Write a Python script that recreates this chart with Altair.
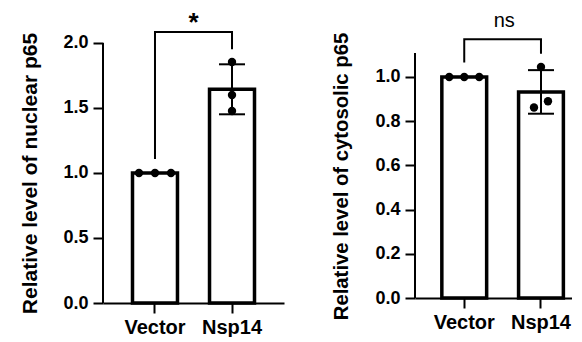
import altair as alt
import pandas as pd

GROUPS = ["Vector", "Nsp14"]

# replicate values
NUC_VECTOR = [1.0, 1.0, 1.0]
NUC_NSP14 = [1.854, 1.600, 1.477]
CYT_VECTOR = [1.0, 1.0, 1.0]
CYT_NSP14 = [1.045, 0.862, 0.890]

NUC_TICKS = [0.0, 0.5, 1.0, 1.5, 2.0]
CYT_TICKS = [0.0, 0.2, 0.4, 0.6, 0.8, 1.0]
NUC_AXIS_TOP = 2.0
CYT_AXIS_TOP = 1.108

# significance bracket heights: left leg bottom, top, top, right leg bottom
NUC_BRACKET = [1.115, 2.085, 2.085, 1.96]
CYT_BRACKET = [1.07, 1.171, 1.171, 1.11]
NUC_SIG = "*"
CYT_SIG = "ns"
NUC_SIG_Y = 2.09
CYT_SIG_Y = 1.226

NUC_TITLE = "Relative level of nuclear p65"
CYT_TITLE = "Relative level of cytosolic p65"

# style: horizontal dot spread (px) per replicate
NUC_JIT = [-16, 0, 16, 0, 0, 0]
CYT_JIT = [-15, 0, 15, 0, -7, 7]

FONT = "Liberation Sans"


def panel(vec, nsp, ticks, axis_top, ymax, height, width, xscale, title, title_size,
          title_pad, title_y, bracket, sig, sig_y, sig_bold, sig_size, jit, sig_dx):
    pts = pd.DataFrame({"group": ["Vector"] * len(vec) + ["Nsp14"] * len(nsp),
                        "value": vec + nsp})
    pts["k"] = range(len(pts))
    summ = pts.groupby("group", sort=False)["value"].agg(["mean", "std"]).reset_index()
    summ["lo"] = summ["mean"] - summ["std"]
    summ["hi"] = summ["mean"] + summ["std"]

    yscale = alt.Scale(domain=[0, ymax], nice=False, zero=True)
    x_axis = alt.Axis(title=None, labelAngle=0, labelFontSize=20, labelFontWeight="bold",
                      tickSize=10, tickWidth=2, domainWidth=2, labelPadding=4)
    y_axis = alt.Axis(values=ticks, format=".1f", domain=False, grid=False,
                      tickSize=10, tickWidth=2, labelFontSize=18, labelFontWeight="bold",
                      labelPadding=5, title=title, titleFontSize=title_size,
                      titleFontWeight="bold", titlePadding=title_pad, titleY=title_y)

    def X():
        return alt.X("group:N", sort=GROUPS, scale=xscale, axis=x_axis)

    def Y(f):
        return alt.Y(f, scale=yscale, axis=y_axis)

    bars = alt.Chart(summ).mark_bar(fill="white", stroke="black", strokeWidth=3.5).encode(
        x=X(), y=Y("mean:Q"))

    err = alt.Chart(summ).mark_rule(color="black", strokeWidth=2).encode(
        x=X(), y=Y("lo:Q"), y2="hi:Q")
    cap_lo = alt.Chart(summ).mark_tick(color="black", size=26, thickness=2, opacity=1).encode(
        x=X(), y=Y("lo:Q"))
    cap_hi = alt.Chart(summ).mark_tick(color="black", size=26, thickness=2, opacity=1).encode(
        x=X(), y=Y("hi:Q"))

    dots = []
    for k in range(len(pts)):
        dots.append(
            alt.Chart(pts).transform_filter(alt.datum.k == k)
            .mark_circle(color="black", size=70, opacity=1, xOffset=jit[k])
            .encode(x=X(), y=Y("value:Q")))

    br = pd.DataFrame({"group": ["Vector", "Vector", "Nsp14", "Nsp14"],
                       "y": bracket, "o": [0, 1, 2, 3]})
    brline = alt.Chart(br).mark_line(color="black", strokeWidth=2, strokeJoin="miter",
                                     strokeCap="square").encode(
        x=X(), y=Y("y:Q"), order="o:Q")

    sdf = pd.DataFrame({"group": ["Vector"], "y": [sig_y], "t": [sig]})
    sigtext = alt.Chart(sdf).mark_text(font=FONT, fontSize=sig_size,
                                       fontWeight="bold" if sig_bold else "normal",
                                       baseline="alphabetic", align="center",
                                       xOffset=sig_dx, color="black").encode(
        x=X(), y=Y("y:Q"), text="t:N")

    adf = pd.DataFrame({"y0": [0.0], "y1": [axis_top]})
    axisline = alt.Chart(adf).mark_rule(color="black", strokeWidth=2).encode(
        x=alt.value(0), y=Y("y0:Q"), y2="y1:Q")

    return alt.layer(bars, err, cap_lo, cap_hi, *dots, brline, sigtext, axisline).properties(
        width=width, height=height)


left = panel(NUC_VECTOR, NUC_NSP14, NUC_TICKS, NUC_AXIS_TOP, 2.269, 295, 181,
             alt.Scale(paddingInner=0.416, paddingOuter=0.383),
             NUC_TITLE, 21, 22, 165,
             NUC_BRACKET, NUC_SIG, NUC_SIG_Y, True, 26, NUC_JIT, 38.5)
right = panel(CYT_VECTOR, CYT_NSP14, CYT_TICKS, CYT_AXIS_TOP, 1.312, 290, 157,
              alt.Scale(paddingInner=0.416, paddingOuter=0.231, align=0.757),
              CYT_TITLE, 20.3, 23, 168,
              CYT_BRACKET, CYT_SIG, CYT_SIG_Y, False, 20, CYT_JIT, 40)

chart = alt.hconcat(left, right, spacing=47).properties(
    padding={"left": 11, "top": 0, "right": 0, "bottom": 0}
).configure_axis(
    labelFont=FONT, titleFont=FONT, domainColor="black", tickColor="black",
    labelColor="black", titleColor="black"
).configure_view(strokeWidth=0)

chart.save("out.html", embed_options={"renderer": "svg", "actions": False})
